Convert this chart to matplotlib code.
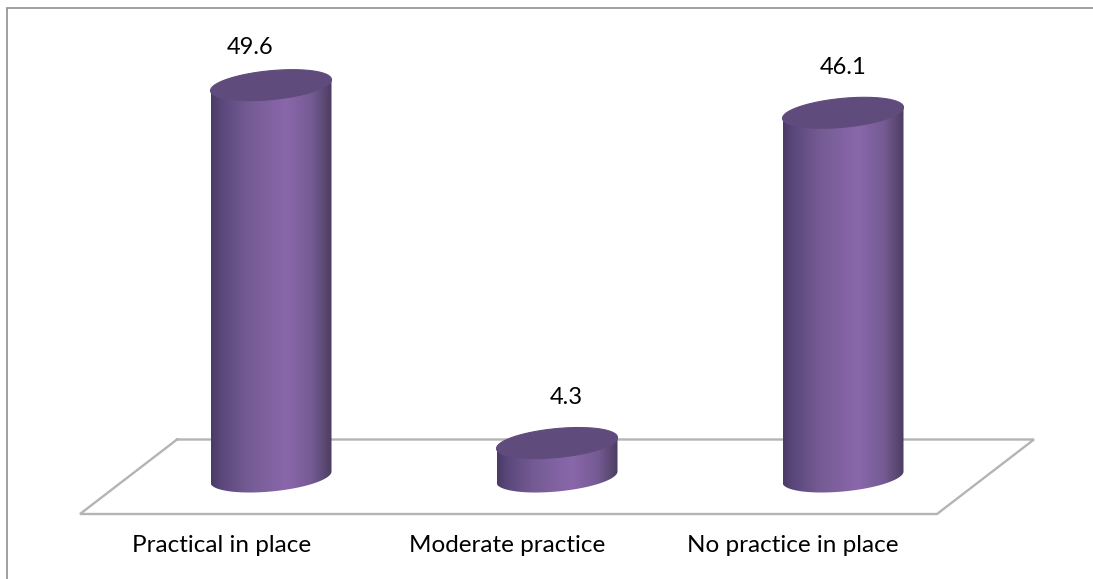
import numpy as np
import matplotlib
matplotlib.use("Agg")
import matplotlib.pyplot as plt
from matplotlib.colors import LinearSegmentedColormap
from matplotlib.patches import PathPatch
from matplotlib.path import Path

categories = ["Practical in place", "Moderate practice", "No practice in place"]
values = [49.6, 4.3, 46.1]

W, H = 1093, 579
PX_PER_UNIT = 7.9
PX_PER_CAT = 286.0
BASE_Y = 477
FIRST_X = 271

fig = plt.figure(figsize=(W / 100, H / 100), dpi=100, facecolor="white")
ax = fig.add_axes([0, 0, 1, 1])
ax.axis("off")

def px_x(x):
    return (np.asarray(x, float) - FIRST_X) / PX_PER_CAT

def px_y(y):
    return (BASE_Y - np.asarray(y, float)) / PX_PER_UNIT

# Chart border (left and top edges only) and the slanted floor plane
ax.plot(px_x([6.5, 6.5, 1093]), px_y([579, 7.5, 7.5]), color="#8f8f8f", lw=1.2,
        solid_joinstyle="miter", zorder=1)
ax.plot(px_x([177, 1034, 937, 80, 177]), px_y([439.5, 439.5, 514, 514, 439.5]),
        color="#b4b4b4", lw=1.7, solid_joinstyle="miter", zorder=1)

cyl_cmap = LinearSegmentedColormap.from_list(
    "cyl", [(0, "#4a3a66"), (0.08, "#5a477a"), (0.3, "#745b93"), (0.62, "#8a67ab"),
            (0.84, "#745b93"), (0.95, "#59476f"), (1, "#4b3c64")])

HALF_W_PX = 60.5
SHEAR_PX = 5.5
MINOR_PX = 14.5
t = np.linspace(0, 2 * np.pi, 121)

def rim(cx, cy, angles):
    return (cx + HALF_W_PX * np.cos(angles) / PX_PER_CAT,
            cy + (MINOR_PX * np.sin(angles) + SHEAR_PX * np.cos(angles)) / PX_PER_UNIT)

# Pixel positions of the value labels and category labels
value_label_x = [250, 566, 843]
value_label_y = [47, 397, 68]
category_label_x = [222, 507, 793]

for i, v in enumerate(values):
    # Cylinder wall: lower rim plus the sides, filled with a horizontal shade
    bx, by = rim(i, 0, np.linspace(np.pi, 2 * np.pi, 60))
    tx, ty = rim(i, v, np.array([0.0, np.pi]))
    verts = np.column_stack([np.r_[bx, tx, bx[0]], np.r_[by, ty, by[0]]])
    clip = PathPatch(Path(verts), transform=ax.transData, fc="none", ec="none")
    ax.add_patch(clip)
    half = HALF_W_PX / PX_PER_CAT
    im = ax.imshow(np.linspace(0, 1, 256)[None, :], cmap=cyl_cmap, aspect="auto",
                   extent=[i - half, i + half, by.min(), v + 3], zorder=3,
                   interpolation="bilinear")
    im.set_clip_path(clip)

    # Top cap
    cx, cy = rim(i, v, t)
    ax.fill(cx, cy, color="#604c7c", lw=0.8, zorder=4)

    ax.text(px_x(value_label_x[i]), px_y(value_label_y[i]), f"{v}", ha="center", va="center",
            fontsize=17, family="Lato", color="black", zorder=5)
    ax.text(px_x(category_label_x[i]), px_y(546), categories[i], ha="center", va="center",
            fontsize=17.5, family="Lato", color="black", zorder=5)

ax.set_xlim(-FIRST_X / PX_PER_CAT, (W - FIRST_X) / PX_PER_CAT)
ax.set_ylim(-(H - BASE_Y) / PX_PER_UNIT, BASE_Y / PX_PER_UNIT)
fig.savefig("out.png", dpi=100)
